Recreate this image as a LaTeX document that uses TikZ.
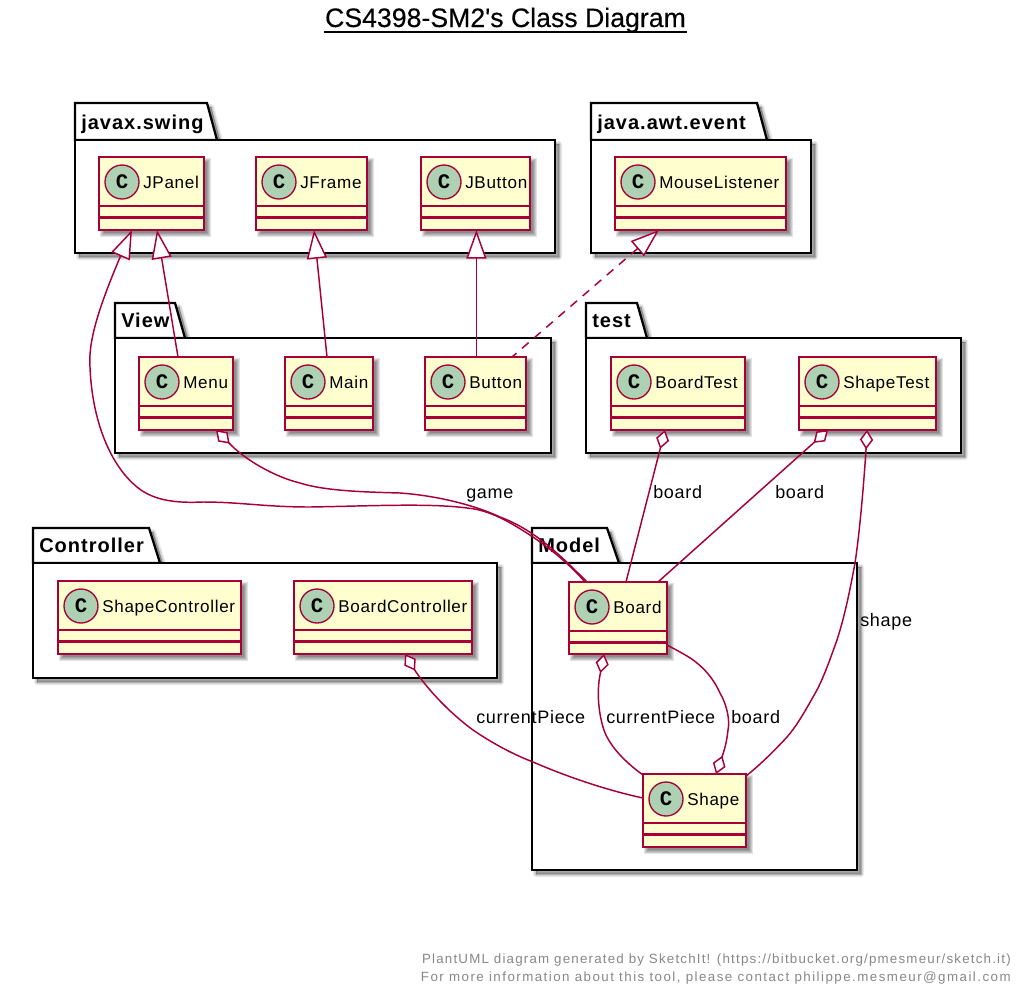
\documentclass[tikz,border=0pt]{standalone}
\usepackage{fontspec}
\usetikzlibrary{calc,arrows.meta}
\setmainfont{Liberation Sans}
\newfontfamily\clsfont[LetterSpace=4]{Liberation Sans}
\newfontfamily\lblfont[LetterSpace=4]{Liberation Sans}
\newfontfamily\pkgfont[LetterSpace=5]{Liberation Sans}
\newfontfamily\footfonta[LetterSpace=9]{Liberation Sans}
\newfontfamily\footfontb[LetterSpace=11]{Liberation Sans}
\newfontfamily\titlefont[FakeBold=0.25]{Liberation Sans}
\newfontfamily\cfont{Liberation Mono}
\definecolor{umlred}{HTML}{A80036}
\definecolor{umlyellow}{HTML}{FEFECE}
\definecolor{umlgreen}{HTML}{ADD1B2}
\definecolor{footgray}{HTML}{888888}
\tikzset{
  clsbox/.style={rectangle,draw=umlred,fill=umlyellow,line width=1.7pt,inner sep=0pt,outer sep=0pt},
  clssep/.style={draw=umlred,line width=1.55pt},
  spot/.style={circle,draw=umlred,fill=umlgreen,line width=1pt,minimum size=25.5pt,inner sep=0pt,font=\cfont\bfseries\fontsize{15.5}{16}\selectfont},
  clsname/.style={anchor=base west,inner sep=0pt,text=black,font=\clsfont\fontsize{12.8}{15}\selectfont},
  pkgbox/.style={rectangle,draw=black,fill=white,line width=1.7pt,inner sep=0pt,outer sep=0pt},
  pkgline/.style={draw=black,fill=white,line width=1.7pt,line join=miter},
  pkgname/.style={anchor=base west,inner sep=0pt,text=black,font=\pkgfont\bfseries\fontsize{15}{17}\selectfont},
  edge/.style={draw=umlred,line width=1.1pt},
  inh/.style={edge,{Triangle[open,fill=white,length=21.5pt,width=15pt,line width=1.1pt]}-},
  agg/.style={edge,{Turned Square[open,fill=white,length=14.5pt,width=10pt,line width=1.1pt]}-},
  lbl/.style={anchor=base west,inner sep=0pt,text=black,font=\lblfont\fontsize{13.5}{15}\selectfont},
  shd/.style={draw=none,fill=black,fill opacity=.11},
}
% name, x1, y1, x2, y2, text
\newcommand{\umlclass}[6]{%
  \foreach \e in {3,2,1,0,-1}{\fill[shd] ({#2+4-\e},{#3+4-\e}) rectangle ({#4+4+\e},{#5+4+\e});}
  \node[clsbox,minimum width={(#4-#2)*0.75pt},minimum height={(#5-#3)*0.75pt}] (#1) at ({(#2+#4)/2},{(#3+#5)/2}) {};
  \draw[clssep] ({#2},{#3+49}) -- ({#4},{#3+49});
  \draw[clssep] ({#2},{#3+60.5}) -- ({#4},{#3+60.5});
  \node[spot] (#1spot) at ({#2+23},{#3+25}) {C};
  \node[clsname] (#1name) at ({#2+44},{#3+31.5}) {#6};
}
% name, x1, ytop, tabTop, tabBottom, ybody, x2, y2, text
\newcommand{\umlpkg}[9]{%
  \foreach \e in {3,2,1,0}{\path[shd,fill opacity=.08,draw=black,draw opacity=.08,line width=\e*1.5pt,line join=round]
    ({#2+4},{#3+4}) -- ({#4+4},{#3+4}) -- ({#5+4},{#6+4}) -- ({#7+4},{#6+4}) -- ({#7+4},{#8+4}) -- ({#2+4},{#8+4}) -- cycle;}
  \draw[pkgline] (#2,#3) -- (#4,#3) -- (#5,#6) -- (#2,#6) -- cycle;
  \node[pkgbox,minimum width={(#7-#2)*0.75pt},minimum height={(#8-#6)*0.75pt}] (#1) at ({(#2+#7)/2},{(#6+#8)/2}) {};
  \node[pkgname] (#1name) at ({#2+6},{#6-11}) {#9};
}
\begin{document}
\begin{tikzpicture}[x=0.75pt,y=-0.75pt]
\useasboundingbox[fill=white] (0,0) rectangle (1027,1000);

\node[anchor=base,inner sep=0pt,font=\titlefont\fontsize{20}{24}\selectfont] (title) at (505.5,27) {CS4398-SM2's Class Diagram};
\draw[black,line width=1.4pt] ($(title.base west)+(-1,5)$) -- ($(title.base east)+(1,5)$);

\umlpkg{pkgSwing}{75}{103}{207}{217}{140}{555}{253}{javax.swing}
\umlpkg{pkgAwt}{591}{103}{757}{767}{140}{811}{253}{java.awt.event}
\umlpkg{pkgView}{115}{303}{175}{185}{338}{551}{453}{View}
\umlpkg{pkgTest}{586}{303}{637}{647}{338}{961}{453}{test}
\umlpkg{pkgCtrl}{33}{528}{149}{160}{563}{497}{678}{Controller}
\umlpkg{pkgModel}{532}{528}{607}{619}{563}{857}{870}{Model}

\umlclass{panel}{99}{157}{204}{230}{JPanel}
\umlclass{frame}{256}{157}{367}{230}{JFrame}
\umlclass{jbutton}{421}{157}{530}{230}{JButton}
\umlclass{mouse}{615}{157}{786}{230}{MouseListener}
\umlclass{menu}{139}{357}{233}{430}{Menu}
\umlclass{main}{285}{357}{373}{430}{Main}
\umlclass{button}{425}{357}{526}{430}{Button}
\umlclass{boardtest}{611}{357}{745}{430}{BoardTest}
\umlclass{shapetest}{799}{357}{936}{430}{ShapeTest}
\umlclass{shapectrl}{58}{581}{241}{654}{ShapeController}
\umlclass{boardctrl}{294}{581}{472}{654}{BoardController}
\umlclass{board}{569}{582}{667}{654}{Board}
\umlclass{shape}{643}{774}{746}{847}{Shape}

% inheritance
\draw[inh] ($(panel.south west)+(33,0)$) -- (119.5,258.5)
  .. controls (100,305) and (88,340) .. (90,367)
  .. controls (92,420) and (110,465) .. (137,487)
  .. controls (155,502) and (180,503) .. (203,502)
  .. controls (240,502) and (265,507) .. (310,507)
  .. controls (370,506) and (430,503) .. (467,508)
  .. controls (490,510) and (510,522) .. (533,537)
  .. controls (555,552) and (572,567) .. ($(board.north west)+(16,0)$);
\draw[inh] ($(panel.south west)+(58,0)$) -- ($(menu.north west)+(39,0)$);
\draw[inh] ($(frame.south west)+(58,0)$) -- ($(main.north west)+(42,0)$);
\draw[inh] ($(jbutton.south west)+(55.4,0)$) -- ($(button.north west)+(51.4,0)$);
\draw[inh,dash pattern=on 6.5pt off 5.5pt] ($(mouse.south west)+(44,0)$) -- ($(button.north west)+(87,0)$);

% aggregation
\draw[agg] ($(menu.south west)+(77,0)$) -- (229,443)
  .. controls (245,460) and (275,477) .. (300,483)
  .. controls (325,491) and (365,492) .. (400,493)
  .. controls (430,495) and (470,503) .. (500,517)
  .. controls (535,530) and (560,555) .. ($(board.north west)+(18,0)$);
\draw[agg] ($(boardtest.south west)+(54,0)$) -- ($(board.north west)+(57,0)$);
\draw[agg] ($(shapetest.south west)+(29,0)$) -- ($(board.north west)+(89,0)$);
\draw[agg] ($(shapetest.south west)+(68,0)$) -- (866,450)
  .. controls (864,480) and (860,530) .. (855,563)
  .. controls (850,590) and (845,615) .. (837,640)
  .. controls (828,665) and (822,682) .. (813,697)
  .. controls (803,715) and (795,728) .. (787,737)
  .. controls (775,750) and (760,765) .. ($(shape.north east)+(0,2)$);
\draw[agg] ($(board.south west)+(35,0)$) -- (600,675)
  .. controls (597,690) and (598,710) .. (603,727)
  .. controls (608,745) and (625,762) .. ($(shape.north west)+(0,1)$);
\draw[agg] ($(shape.north west)+(73,0)$) -- (723,754)
  .. controls (725,748) and (727,740) .. (728,730)
  .. controls (730,720) and (727,705) .. (720,693)
  .. controls (715,682) and (708,672) .. (697,663)
  .. controls (690,657) and (680,652) .. ($(board.south east)+(0,-9)$);
\draw[agg] ($(boardctrl.south west)+(111,0)$) -- (416,672)
  .. controls (430,692) and (450,713) .. (473,730)
  .. controls (495,745) and (515,755) .. (533,762)
  .. controls (570,778) and (610,791) .. ($(shape.north west)+(0,24)$);

% labels
\node[lbl] (lgame) at (466,498) {game};
\node[lbl] (lb1) at (653,498) {board};
\node[lbl] (lb2) at (775,498) {board};
\node[lbl] (lshape) at (860,626) {shape};
\node[lbl] (lcp1) at (476,723) {currentPiece};
\node[lbl] (lcp2) at (606,723) {currentPiece};
\node[lbl] (lb3) at (731,723) {board};

% footer
\node[anchor=base east,inner sep=0pt,text=footgray,font=\footfonta\fontsize{10}{12}\selectfont] (foot1) at (1011,963) {PlantUML diagram generated by SketchIt! (https://bitbucket.org/pmesmeur/sketch.it)};
\node[anchor=base east,inner sep=0pt,text=footgray,font=\footfontb\fontsize{10}{12}\selectfont] (foot2) at (1011,981) {For more information about this tool, please contact philippe.mesmeur@gmail.com};
\end{tikzpicture}
\end{document}
